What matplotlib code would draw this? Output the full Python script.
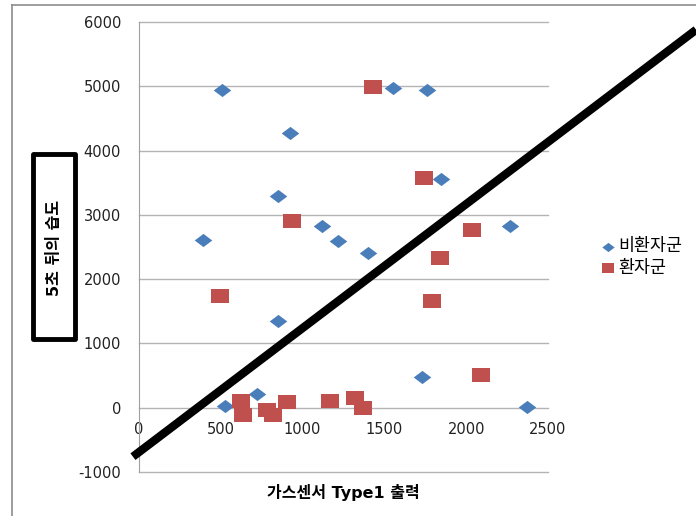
import matplotlib
matplotlib.use("Agg")
import matplotlib.pyplot as plt
from matplotlib.patches import Rectangle
from matplotlib.lines import Line2D

plt.rcParams['font.family'] = ['DejaVu Sans', 'Noto Sans CJK KR']
plt.rcParams['axes.unicode_minus'] = False

# 비환자군 (non-patient group)
normal_x = [505, 923, 1551, 1762, 852, 1846, 1116, 1218, 1398, 389, 2268, 852, 526, 719, 1728, 2370]
normal_y = [4946, 4272, 4975, 4935, 3297, 3557, 2830, 2587, 2406, 2602, 2830, 1342, 20, 218, 477, 11]

# 환자군 (patient group)
patient_x = [1428, 1740, 937, 2034, 1840, 495, 1789, 2090, 623, 634, 780, 821, 903, 1167, 1320, 1367]
patient_y = [4987, 3575, 2897, 2768, 2328, 1731, 1664, 513, 104, -109, -42, -109, 82, 109, 151, -5]

# hand-drawn separating line (data coords)
line_x = [-37, 3405]
line_y = [-762, 5879]

x_ticks = [0, 500, 1000, 1500, 2000, 2500]
y_ticks = [-1000, 0, 1000, 2000, 3000, 4000, 5000, 6000]

blue = '#4a7ebb'
red = '#c0504d'
diamond = [(-1.33, 0), (0, 1), (1.33, 0), (0, -1)]
square = [(-1.33, -1), (1.33, -1), (1.33, 1), (-1.33, 1)]

fig = plt.figure(figsize=(6.96, 5.16), dpi=100)
ax = fig.add_axes([0.1997, 0.0853, 0.5877, 0.8721])

ax.set_xlim(0, 2500)
ax.set_ylim(-1000, 6000)
ax.set_xticks(x_ticks)
ax.set_yticks(y_ticks)

for y in y_ticks:
    ax.axhline(y, color='#b4b4b4', lw=1, zorder=0, clip_on=False)

for s in ['top', 'right']:
    ax.spines[s].set_visible(False)
ax.spines['left'].set_color('#a0a0a0')
ax.spines['bottom'].set_position(('data', 0))
ax.spines['bottom'].set_visible(False)
ax.tick_params(axis='both', length=0, labelsize=10.5, colors='#222222')
ax.tick_params(axis='x', pad=10)
ax.tick_params(axis='y', pad=13)

ax.scatter(normal_x, normal_y, marker=diamond, s=160, color=blue, linewidths=0,
           label='비환자군', zorder=3)
ax.scatter(patient_x, patient_y, marker=square, s=160, color=red, linewidths=0,
           label='환자군', zorder=3)

ax.plot(line_x, line_y, color='black', lw=6, solid_capstyle='butt', clip_on=False, zorder=4)

leg = ax.legend(loc='center left', bbox_to_anchor=(0.853, 0.502), bbox_transform=fig.transFigure,
                frameon=False, handlelength=0.6, handletextpad=0.3, labelspacing=0.2,
                markerscale=0.7, borderpad=0, prop={'family': 'Noto Sans CJK KR', 'size': 12.5})

# axis titles
fig.text(0.493, 0.046, '가스센서 Type1 출력', ha='center', va='center',
         fontsize=11.5, fontweight='bold')
fig.add_artist(Rectangle((33 / 696, 1 - 339 / 516), 42 / 696, 185 / 516,
                         transform=fig.transFigure, fill=False, lw=3.5,
                         edgecolor='black', joinstyle='round'))
fig.text(54 / 696, 1 - 248 / 516, '5초 뒤의 습도', rotation=90, ha='center', va='center',
         fontsize=11.5, fontweight='bold')

# outer chart frame
fig.add_artist(Line2D([12 / 696, 1], [1 - 5 / 516, 1 - 5 / 516], transform=fig.transFigure,
                      color='#8c8c8c', lw=1.2))
fig.add_artist(Line2D([12 / 696, 12 / 696], [0, 1 - 5 / 516], transform=fig.transFigure,
                      color='#8c8c8c', lw=1.2))

fig.savefig('out.png', dpi=100)
